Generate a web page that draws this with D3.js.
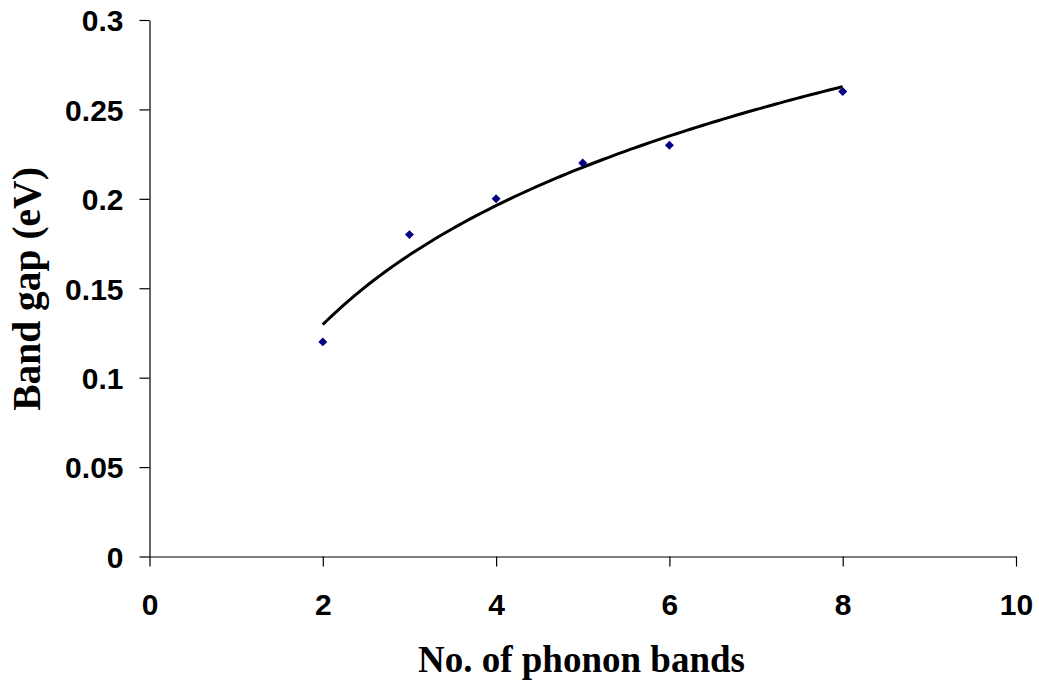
<!DOCTYPE html>
<html>
<head>
<meta charset="utf-8">
<script src="https://cdn.jsdelivr.net/npm/d3@7"></script>
<style>
  html, body { margin: 0; padding: 0; background: #fff; }
  svg { display: block; }
</style>
</head>
<body>
<svg id="chart" width="1039" height="689"></svg>
<script>
// Measured band gap versus number of phonon bands
const phononBands = [2, 3, 4, 5, 6, 8];
const bandGap = [0.12, 0.18, 0.20, 0.22, 0.23, 0.26];

// Axis ticks
const xTicks = [0, 2, 4, 6, 8, 10];
const yTicks = [0, 0.05, 0.1, 0.15, 0.2, 0.25, 0.3];
const yTickLabels = ["0", "0.05", "0.1", "0.15", "0.2", "0.25", "0.3"];

const svg = d3.select("#chart");
const plotLeft = 149.5, plotRight = 1016, plotTop = 20, plotBottom = 556.5;

const x = d3.scaleLinear().domain([0, 10]).range([plotLeft, plotRight]);
const y = d3.scaleLinear().domain([0, 0.3]).range([plotBottom, plotTop]);

const tickFont = "'Liberation Sans', Arial, sans-serif";
const titleFont = "'Liberation Serif', 'Times New Roman', serif";

// X axis
const gx = svg.append("g")
  .attr("transform", `translate(0,${plotBottom})`)
  .call(d3.axisBottom(x).tickValues(xTicks).tickSize(10).tickSizeOuter(0).tickFormat(d3.format("d")));
gx.selectAll("text")
  .attr("font-family", tickFont).attr("font-weight", "bold").attr("font-size", 30)
  .attr("fill", "#000").attr("y", 0).attr("dy", 0)
  .attr("transform", "translate(0,58)");

// Y axis
const gy = svg.append("g")
  .attr("transform", `translate(${plotLeft},0)`)
  .call(d3.axisLeft(y).tickValues(yTicks).tickSize(10).tickSizeOuter(0)
    .tickFormat((d, i) => yTickLabels[i]));
gy.selectAll("text")
  .attr("font-family", tickFont).attr("font-weight", "bold").attr("font-size", 30)
  .attr("fill", "#000").attr("x", -26).attr("dy", "0.36em");

svg.selectAll(".domain").attr("stroke", "#000").attr("stroke-width", 1.2);
svg.selectAll(".tick line").attr("stroke", "#000").attr("stroke-width", 1.2);

// Logarithmic trendline, least-squares fit of y = a ln(x) + b
const lx = phononBands.map(Math.log);
const mx = d3.mean(lx), my = d3.mean(bandGap);
const sxy = d3.sum(lx, (v, i) => (v - mx) * (bandGap[i] - my));
const sxx = d3.sum(lx, v => (v - mx) * (v - mx));
const slope = sxy / sxx, intercept = my - slope * mx;
const xMin = d3.min(phononBands), xMax = d3.max(phononBands);
const fitPts = d3.range(0, 101).map(k => {
  const xv = xMin + (xMax - xMin) * k / 100;
  return [xv, slope * Math.log(xv) + intercept];
});
svg.append("path")
  .datum(fitPts)
  .attr("fill", "none")
  .attr("stroke", "#000")
  .attr("stroke-width", 3)
  .attr("d", d3.line().x(d => x(d[0])).y(d => y(d[1])).curve(d3.curveMonotoneX));

// Data markers (navy diamonds)
const diamond = d3.symbol().type(d3.symbolSquare).size(40);
svg.append("g").selectAll("path")
  .data(phononBands.map((v, i) => [v, bandGap[i]]))
  .join("path")
  .attr("d", diamond)
  .attr("transform", d => `translate(${x(d[0])},${y(d[1])}) rotate(45)`)
  .attr("fill", "#000080");

// Axis titles
svg.append("text")
  .attr("x", 581.5).attr("y", 672)
  .attr("text-anchor", "middle")
  .attr("font-family", titleFont).attr("font-weight", "bold").attr("font-size", 37)
  .text("No. of phonon bands");

svg.append("text")
  .attr("transform", "translate(40,289) rotate(-90)")
  .attr("text-anchor", "middle")
  .attr("font-family", titleFont).attr("font-weight", "bold").attr("font-size", 39.5)
  .text("Band gap (eV)");
</script>
</body>
</html>
